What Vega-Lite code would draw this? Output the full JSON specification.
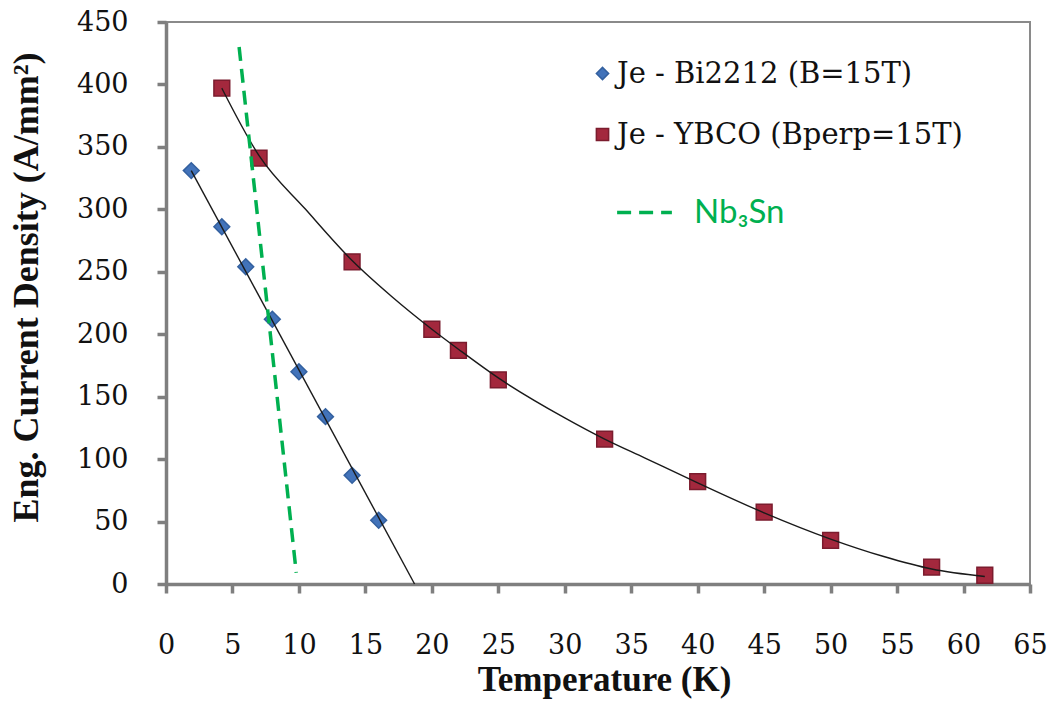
{
  "$schema": "https://vega.github.io/schema/vega-lite/v6.json",
  "width": 864,
  "height": 562,
  "autosize": {"type": "none"},
  "padding": {"left": 166, "top": 22, "right": 18, "bottom": 139},
  "background": "white",
  "config": {
    "view": {"stroke": "#8a8a8a", "strokeWidth": 2},
    "axis": {
      "grid": false,
      "domainColor": "#7f7f7f",
      "domainWidth": 3.5,
      "tickColor": "#7f7f7f",
      "tickWidth": 3.5,
      "tickSize": 9,
      "labelFontSize": 27,
      "labelColor": "#111111",
      "titleFont": "Liberation Serif",
      "titleFontWeight": "bold",
      "titleFontSize": 35,
      "titleColor": "#111111"
    },
    "legend": {"labelLimit": 0}
  },
  "datasets": {
    "markers": [
      {"T": 1.9, "Je": 331, "series": "Je - Bi2212 (B=15T)"},
      {"T": 4.2, "Je": 286, "series": "Je - Bi2212 (B=15T)"},
      {"T": 6.0, "Je": 254, "series": "Je - Bi2212 (B=15T)"},
      {"T": 8.0, "Je": 212, "series": "Je - Bi2212 (B=15T)"},
      {"T": 10.0, "Je": 170, "series": "Je - Bi2212 (B=15T)"},
      {"T": 12.0, "Je": 134, "series": "Je - Bi2212 (B=15T)"},
      {"T": 14.0, "Je": 87, "series": "Je - Bi2212 (B=15T)"},
      {"T": 16.0, "Je": 51, "series": "Je - Bi2212 (B=15T)"},
      {"T": 4.2, "Je": 397, "series": "Je - YBCO (Bperp=15T)"},
      {"T": 7.0, "Je": 341, "series": "Je - YBCO (Bperp=15T)"},
      {"T": 14.0, "Je": 258, "series": "Je - YBCO (Bperp=15T)"},
      {"T": 20.0, "Je": 204, "series": "Je - YBCO (Bperp=15T)"},
      {"T": 22.0, "Je": 187, "series": "Je - YBCO (Bperp=15T)"},
      {"T": 25.0, "Je": 163.5, "series": "Je - YBCO (Bperp=15T)"},
      {"T": 33.0, "Je": 116, "series": "Je - YBCO (Bperp=15T)"},
      {"T": 40.0, "Je": 82, "series": "Je - YBCO (Bperp=15T)"},
      {"T": 45.0, "Je": 57.5, "series": "Je - YBCO (Bperp=15T)"},
      {"T": 50.0, "Je": 35, "series": "Je - YBCO (Bperp=15T)"},
      {"T": 57.6, "Je": 13.5, "series": "Je - YBCO (Bperp=15T)"},
      {"T": 61.6, "Je": 7, "series": "Je - YBCO (Bperp=15T)"}
    ],
    "fits": [
      {"T": 1.9, "Je": 331, "fit": "Bi2212"},
      {"T": 18.7, "Je": 0, "fit": "Bi2212"},
      {"T": 4.2, "Je": 397, "fit": "YBCO"},
      {"T": 7.0, "Je": 343, "fit": "YBCO"},
      {"T": 10.5, "Je": 300, "fit": "YBCO"},
      {"T": 14.0, "Je": 259, "fit": "YBCO"},
      {"T": 17.0, "Je": 230, "fit": "YBCO"},
      {"T": 20.0, "Je": 204, "fit": "YBCO"},
      {"T": 22.0, "Je": 188, "fit": "YBCO"},
      {"T": 25.0, "Je": 165, "fit": "YBCO"},
      {"T": 30.0, "Je": 133, "fit": "YBCO"},
      {"T": 33.0, "Je": 116, "fit": "YBCO"},
      {"T": 36.0, "Je": 101, "fit": "YBCO"},
      {"T": 40.0, "Je": 81, "fit": "YBCO"},
      {"T": 45.0, "Je": 57, "fit": "YBCO"},
      {"T": 50.0, "Je": 36, "fit": "YBCO"},
      {"T": 54.0, "Je": 22, "fit": "YBCO"},
      {"T": 57.6, "Je": 12, "fit": "YBCO"},
      {"T": 61.6, "Je": 6, "fit": "YBCO"}
    ],
    "nb3sn": [
      {"T": 5.5, "Je": 430, "series": "Nb₃Sn"},
      {"T": 9.8, "Je": 9, "series": "Nb₃Sn"}
    ]
  },
  "layer": [
    {
      "data": {"name": "markers"},
      "mark": {"type": "point", "filled": true, "size": 250, "strokeWidth": 1.5, "opacity": 1},
      "encoding": {
        "x": {
          "field": "T", "type": "quantitative",
          "scale": {"domain": [0, 65], "nice": false, "zero": true},
          "axis": {
            "title": "Temperature (K)",
            "values": [0, 5, 10, 15, 20, 25, 30, 35, 40, 45, 50, 55, 60, 65],
            "labelFont": "DejaVu Serif",
            "labelBaseline": "alphabetic",
            "labelPadding": 60,
            "labelFlush": false,
            "labelOverlap": false,
            "titleX": 438,
            "titleY": 106,
            "titleBaseline": "alphabetic",
            "titleAlign": "center",
            "titleAnchor": "middle"
          }
        },
        "y": {
          "field": "Je", "type": "quantitative",
          "scale": {"domain": [0, 450], "nice": false},
          "axis": {
            "title": "Eng. Current Density (A/mm²)",
            "values": [0, 50, 100, 150, 200, 250, 300, 350, 400, 450],
            "labelFont": "DejaVu Serif",
            "labelPadding": 29,
            "labelFlush": false,
            "labelOverlap": false,
            "titleFontSize": 36,
            "titleX": -129,
            "titleY": 265,
            "titleBaseline": "alphabetic",
            "titleAlign": "center",
            "titleAnchor": "middle"
          }
        },
        "color": {
          "field": "series", "type": "nominal",
          "scale": {"domain": ["Je - Bi2212 (B=15T)", "Je - YBCO (Bperp=15T)"], "range": ["#4273BA", "#A3283D"]},
          "legend": {
            "orient": "none", "legendX": 422, "legendY": 37, "title": null,
            "labelFont": "DejaVu Serif", "labelFontSize": 29, "labelColor": "#111111", "labelLimit": 0,
            "symbolSize": 150, "labelOffset": 0, "rowPadding": 31, "padding": 0
          }
        },
        "shape": {
          "field": "series", "type": "nominal",
          "scale": {"domain": ["Je - Bi2212 (B=15T)", "Je - YBCO (Bperp=15T)"], "range": ["diamond", "square"]},
          "legend": {
            "orient": "none", "legendX": 422, "legendY": 37, "title": null,
            "labelFont": "DejaVu Serif", "labelFontSize": 29, "labelColor": "#111111", "labelLimit": 0,
            "symbolSize": 150, "labelOffset": 0, "rowPadding": 31, "padding": 0
          }
        },
        "stroke": {
          "field": "series", "type": "nominal",
          "scale": {"domain": ["Je - Bi2212 (B=15T)", "Je - YBCO (Bperp=15T)"], "range": ["#33609F", "#7B1C2E"]},
          "legend": {
            "orient": "none", "legendX": 422, "legendY": 37, "title": null,
            "labelFont": "DejaVu Serif", "labelFontSize": 29, "labelColor": "#111111", "labelLimit": 0,
            "symbolSize": 150, "labelOffset": 0, "rowPadding": 31, "padding": 0
          }
        }
      }
    },
    {
      "data": {"name": "fits"},
      "mark": {"type": "line", "color": "#1a1a1a", "strokeWidth": 1.4, "interpolate": "monotone"},
      "encoding": {
        "x": {"field": "T", "type": "quantitative"},
        "y": {"field": "Je", "type": "quantitative"},
        "detail": {"field": "fit", "type": "nominal"}
      }
    },
    {
      "data": {"name": "nb3sn"},
      "mark": {"type": "line", "color": "#00B050", "strokeWidth": 3.5},
      "encoding": {
        "x": {"field": "T", "type": "quantitative"},
        "y": {"field": "Je", "type": "quantitative"},
        "strokeDash": {
          "field": "series", "type": "nominal",
          "scale": {"domain": ["Nb₃Sn"], "range": [[14, 8]]},
          "legend": {
            "orient": "none", "legendX": 449, "legendY": 161, "title": null,
            "symbolType": "stroke", "symbolSize": 3000, "symbolStrokeColor": "#00B050",
            "symbolStrokeWidth": 3.5, "labelFont": "Lato", "labelFontSize": 33,
            "labelColor": "#00B050", "labelOffset": 20, "padding": 0, "labelLimit": 0
          }
        }
      }
    }
  ]
}
